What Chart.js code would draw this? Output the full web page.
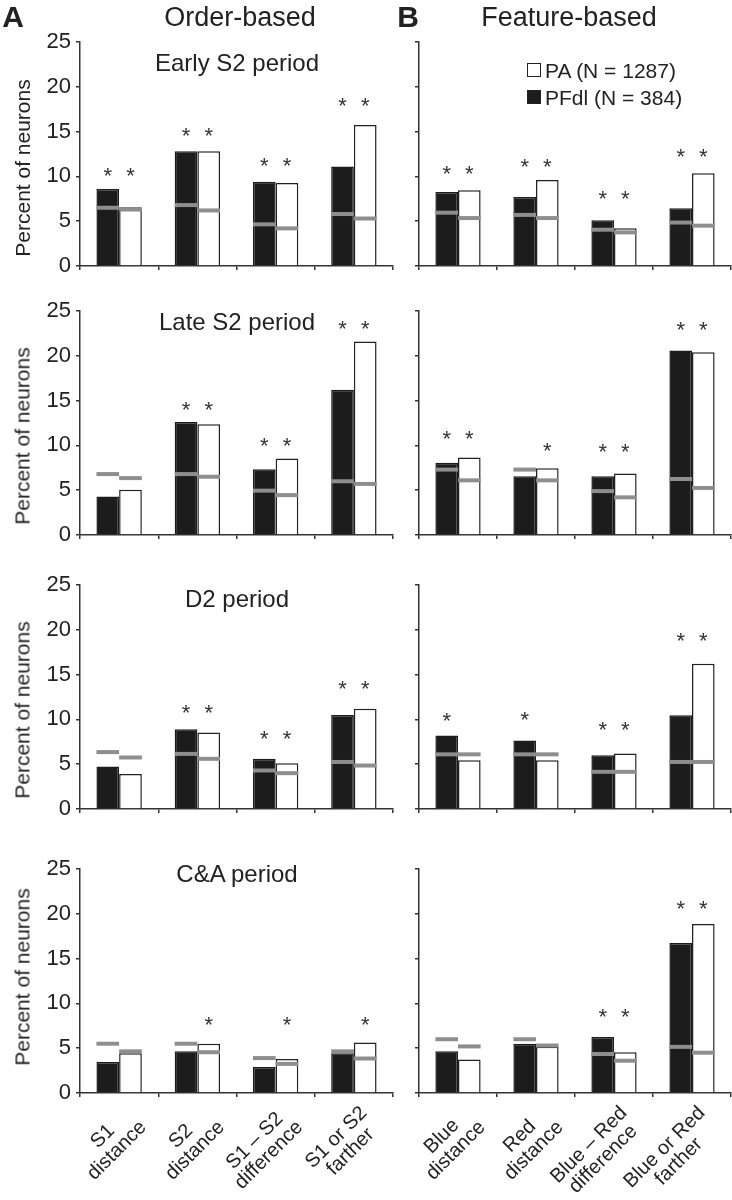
<!DOCTYPE html>
<html>
<head>
<meta charset="utf-8">
<script src="https://cdn.jsdelivr.net/npm/chart.js@4.4.1/dist/chart.umd.min.js"></script>
<style>
  body { margin: 0; background: #fff; }
  #fig { position: relative; width: 732px; height: 1200px; background: #fff; font-family: "Liberation Sans", Arial, sans-serif; color: #222; }
  #fig canvas { position: absolute; }
  .t { position: absolute; line-height: 1; white-space: nowrap; transform: translate(-50%, -50%); }
  .ytitle { position: absolute; line-height: 1; white-space: nowrap; font-size: 21px; transform: translate(-50%, -50%) rotate(-90deg); }
  .sq { position: absolute; width: 12px; height: 12px; border: 1.5px solid #222; }
</style>
</head>
<body>
<div id="fig"></div>
<script>
// ---- data ----
const periods = ['Early S2 period', 'Late S2 period', 'D2 period', 'C&A period'];
const orderLabels = [['S1', 'distance'], ['S2', 'distance'], ['S1 – S2', 'difference'], ['S1 or S2', 'farther']];
const featureLabels = [['Blue', 'distance'], ['Red', 'distance'], ['Blue – Red', 'difference'], ['Blue or Red', 'farther']];

// order-based, one row per period
const orderPFdl = [[8.6, 12.8, 9.4, 11.1], [4.3, 12.6, 7.35, 16.2], [4.75, 8.9, 5.6, 10.5], [3.45, 4.65, 2.9, 4.45]];
const orderPA = [[6.55, 12.8, 9.25, 15.75], [5.05, 12.35, 8.55, 21.6], [3.9, 8.55, 5.1, 11.2], [4.45, 5.5, 3.8, 5.65]];
const orderChancePFdl = [[6.5, 6.8, 4.65, 5.8], [6.8, 6.8, 4.95, 6.0], [6.35, 6.15, 4.3, 5.25], [5.5, 5.5, 3.9, 4.65]];
const orderChancePA = [[6.3, 6.2, 4.2, 5.3], [6.35, 6.5, 4.45, 5.7], [5.75, 5.6, 4.0, 4.85], [4.65, 4.55, 3.25, 3.85]];
const orderStarPFdl = [[1, 1, 1, 1], [0, 1, 1, 1], [0, 1, 1, 1], [0, 0, 0, 0]];
const orderStarPA = [[1, 1, 1, 1], [0, 1, 1, 1], [0, 1, 1, 1], [0, 1, 1, 1]];
const orderStarLevel = [[10.7, 15.1, 11.8, 18.5], [0, 14.6, 10.6, 23.6], [0, 11.3, 8.4, 14.0], [0, 8.15, 8.15, 8.15]];

// feature-based
const featurePFdl = [[8.25, 7.7, 5.1, 6.45], [8.05, 6.55, 6.55, 20.6], [8.2, 7.65, 6.0, 10.45], [4.65, 5.5, 6.25, 16.75]];
const featurePA = [[8.45, 9.6, 4.2, 10.35], [8.65, 7.45, 6.85, 20.4], [5.45, 5.45, 6.2, 16.2], [3.75, 5.15, 4.55, 18.85]];
const featureChancePFdl = [[5.95, 5.7, 4.05, 4.85], [7.3, 7.3, 4.9, 6.25], [6.1, 6.1, 4.15, 5.25], [6.0, 6.0, 4.35, 5.15]];
const featureChancePA = [[5.35, 5.35, 3.75, 4.5], [6.1, 6.1, 4.2, 5.25], [6.1, 6.1, 4.15, 5.25], [5.2, 5.3, 3.6, 4.5]];
const featureStarPFdl = [[1, 1, 1, 1], [1, 0, 1, 1], [1, 1, 1, 1], [0, 0, 1, 1]];
const featureStarPA = [[1, 1, 1, 1], [1, 1, 1, 1], [0, 0, 1, 1], [0, 0, 1, 1]];
const featureStarLevel = [[10.9, 11.7, 8.1, 12.8], [11.3, 10.0, 9.85, 23.5], [10.4, 10.5, 9.4, 19.4], [0, 0, 9.05, 21.2]];

// ---- layout ----
const FONT = '"Liberation Sans", Arial, sans-serif';
const fig = document.getElementById('fig');
const rowTop = [42, 311, 585, 869];
const titleY = [63, 322, 599, 874];
const yTitleY = [168, 436, 710, 977];
const PLOT_H = 224, PAD_TOP = 15;

function addText(txt, x, y, size, bold) {
  const d = document.createElement('div');
  d.className = 't';
  d.textContent = txt;
  d.style.left = x + 'px';
  d.style.top = y + 'px';
  d.style.fontSize = size + 'px';
  if (bold) d.style.fontWeight = 'bold';
  fig.appendChild(d);
  return d;
}

// gray chance lines, asterisks, and (bottom row) rotated two-line labels
function marks(chance, stars, level, labels) {
  return {
    id: 'marks',
    afterDatasetsDraw(chart) {
      const {ctx, scales: {x, y}} = chart;
      ctx.save();
      chart.data.datasets.forEach((ds, d) => {
        chart.getDatasetMeta(d).data.forEach((bar, i) => {
          const p = bar.getProps(['x', 'width'], true);
          const yy = y.getPixelForValue(chance[d][i]);
          ctx.strokeStyle = '#8e8e8e';
          ctx.lineWidth = 4;
          ctx.beginPath();
          ctx.moveTo(p.x - p.width / 2, yy);
          ctx.lineTo(p.x + p.width / 2, yy);
          ctx.stroke();
          if (stars[d][i]) {
            ctx.fillStyle = '#333';
            ctx.font = '22px ' + FONT;
            ctx.textAlign = 'center';
            ctx.textBaseline = 'alphabetic';
            ctx.fillText('*', p.x, y.getPixelForValue(level[i]) + 12.5);
          }
        });
      });
      if (labels) {
        const lh = 20, c = Math.SQRT1_2;
        ctx.font = '20px ' + FONT;
        ctx.fillStyle = '#222';
        ctx.textAlign = 'center';
        ctx.textBaseline = 'middle';
        labels.forEach((lines, i) => {
          const px = x.getPixelForValue(i) + 3;
          const py = x.top + 10;
          const w = Math.max(...lines.map(l => ctx.measureText(l).width));
          const h = lines.length * lh;
          ctx.save();
          ctx.translate(px - c * (w - h) / 2, py + c * (w + h) / 2);
          ctx.rotate(-Math.PI / 4);
          lines.forEach((l, j) => ctx.fillText(l, 0, (j - (lines.length - 1) / 2) * lh));
          ctx.restore();
        });
      }
      ctx.restore();
    }
  };
}

function panel(row, left, width, yw, padRight, showY, cats, pfdl, pa, chance, stars, level) {
  const last = row === 3;
  const xh = last ? 1200 - (rowTop[row] + PLOT_H) : 14;
  const cv = document.createElement('canvas');
  cv.width = width;
  cv.height = PAD_TOP + PLOT_H + xh;
  cv.style.left = left + 'px';
  cv.style.top = (rowTop[row] - PAD_TOP) + 'px';
  fig.appendChild(cv);

  const axisGrid = {drawOnChartArea: false, tickLength: 4, color: '#333', lineWidth: 1.5};
  new Chart(cv, {
    type: 'bar',
    data: {
      labels: cats.map(c => c.join(' ')),
      datasets: [
        {label: 'PFdl (N = 384)', data: pfdl, backgroundColor: '#1c1c1c', borderColor: '#1c1c1c', borderWidth: 1.5},
        {label: 'PA (N = 1287)', data: pa, backgroundColor: '#ffffff', borderColor: '#222', borderWidth: 1.5}
      ]
    },
    options: {
      responsive: false,
      animation: false,
      categoryPercentage: 0.58,
      barPercentage: 1,
      layout: {padding: {top: PAD_TOP, right: padRight, left: 0, bottom: 0}},
      plugins: {legend: {display: false}, tooltip: {enabled: false}},
      scales: {
        x: {
          grid: Object.assign({offset: true}, axisGrid),
          border: {color: '#333', width: 1.5},
          ticks: {display: false},
          afterFit: s => { s.height = xh; s.paddingLeft = 0; s.paddingRight = 0; }
        },
        y: {
          min: 0, max: 25,
          grid: axisGrid,
          border: {color: '#333', width: 1.5},
          ticks: {stepSize: 5, display: showY, padding: 5, color: '#222', font: {size: 22, family: FONT}},
          afterFit: s => { s.width = yw; s.paddingTop = 0; s.paddingBottom = 0; }
        }
      }
    },
    plugins: [marks(chance, stars, level, last ? cats : null)]
  });
}

for (let r = 0; r < 4; r++) {
  panel(r, 0, 400, 80, 7, true, orderLabels, orderPFdl[r], orderPA[r],
        [orderChancePFdl[r], orderChancePA[r]], [orderStarPFdl[r], orderStarPA[r]], orderStarLevel[r]);
  panel(r, 400, 332, 19, 1, false, featureLabels, featurePFdl[r], featurePA[r],
        [featureChancePFdl[r], featureChancePA[r]], [featureStarPFdl[r], featureStarPA[r]], featureStarLevel[r]);
  addText(periods[r], 237, titleY[r], 24);
  const yt = document.createElement('div');
  yt.className = 'ytitle';
  yt.textContent = 'Percent of neurons';
  yt.style.left = '22px';
  yt.style.top = yTitleY[r] + 'px';
  fig.appendChild(yt);
}

// headings
addText('A', 13, 17, 30, true);
addText('B', 408, 17, 30, true);
addText('Order-based', 240, 17, 27);
addText('Feature-based', 569, 17, 27);

// legend
const sq1 = document.createElement('div');
sq1.className = 'sq';
sq1.style.cssText = 'left:527px;top:63px;background:#fff;';
fig.appendChild(sq1);
const sq2 = document.createElement('div');
sq2.className = 'sq';
sq2.style.cssText = 'left:527px;top:90px;background:#1c1c1c;';
fig.appendChild(sq2);
const l1 = addText('PA (N = 1287)', 545, 70, 21);
l1.style.transform = 'translate(0, -50%)';
const l2 = addText('PFdl (N = 384)', 545, 97, 21);
l2.style.transform = 'translate(0, -50%)';
</script>
</body>
</html>
